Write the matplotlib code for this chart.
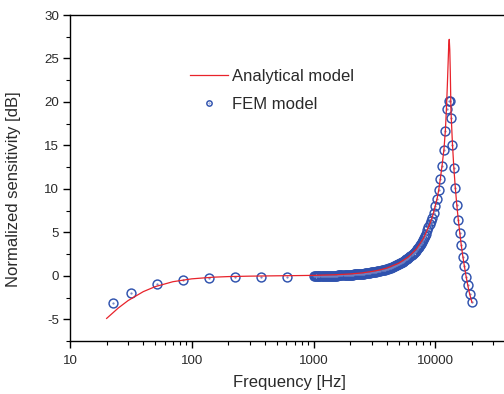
"""Normalized sensitivity: analytical model vs FEM model."""

import matplotlib

matplotlib.use("Agg")
import matplotlib.pyplot as plt
from matplotlib.ticker import FixedLocator, LogLocator, MultipleLocator, NullFormatter

# analytical curve (Hz, dB)
ana_freq = [20, 25, 30, 40, 50, 70, 100, 150, 200, 300, 500, 700, 1000, 1500, 2000,
            2500, 3000, 3500, 4000, 5000, 6000, 7000, 8000, 9000, 9500, 10000, 10400,
            10700, 11020, 11380, 11800, 12120, 12380, 12570, 12770, 12900, 13030, 13160,
            13290, 13460, 13830, 14200, 14600, 15020, 15450, 15900, 16350, 16860, 17380,
            17910, 18500, 19130, 20000]
ana_db = [-4.9, -3.69, -2.85, -1.82, -1.25, -0.68, -0.35, -0.16, -0.09, -0.04, 0.0, 0.02,
          0.05, 0.12, 0.21, 0.33, 0.49, 0.67, 0.89, 1.44, 2.16, 3.09, 4.30, 5.92, 6.85,
          8.05, 9.0, 9.95, 11.2, 12.7, 14.6, 16.8, 19.5, 21.9, 24.7, 26.5, 27.2, 26.0,
          23.5, 19.0, 15.3, 12.5, 10.2, 8.2, 6.5, 4.95, 3.55, 2.2, 1.05, -0.05, -1.1,
          -2.05, -3.05]

# FEM results (Hz, dB)
fem_freq = [22.7, 31.7, 51.9, 84.9, 138.8, 227, 371, 607,
            1000, 1020, 1040, 1060, 1080, 1100, 1120, 1145, 1170, 1195, 1220, 1245, 1270,
            1295, 1320, 1345, 1370, 1395, 1420, 1450, 1480, 1510, 1540, 1570, 1600, 1630,
            1660, 1695, 1730, 1765, 1800, 1835, 1870, 1905, 1940, 1980, 2020, 2060, 2100,
            2140, 2180, 2225, 2270, 2315, 2360, 2405, 2450, 2500, 2550, 2600, 2650, 2705,
            2760, 2815, 2870, 2925, 2980, 3040, 3100, 3160, 3220, 3285, 3350, 3415, 3480,
            3550, 3620, 3695, 3770, 3845, 3920, 3995, 4070, 4155, 4240, 4320, 4400, 4490,
            4580, 4670, 4760, 4855, 4950, 5050, 5150, 5250, 5350, 5460, 5570, 5680, 5790,
            5905, 6020, 6140, 6260, 6385, 6510, 6640, 6770, 6905, 7040, 7180, 7320, 7470,
            7620, 7770, 7920, 8080, 8240, 8420,
            8600, 8790, 8980, 9220, 9450, 9680, 10000, 10380, 10700, 11020, 11380, 11800,
            12120, 12550, 12860, 13210, 13460, 13830, 14200, 14600, 15020, 15450, 15900,
            16350, 16860, 17380, 17910, 18500, 19130, 19950]
fem_db = [-3.17, -1.95, -0.92, -0.46, -0.27, -0.19, -0.19, -0.11,
          -0.05, -0.04, -0.04, -0.04, -0.04, -0.03, -0.03, -0.03, -0.03, -0.02, -0.02,
          -0.02, -0.01, -0.01, -0.01, 0.00, 0.00, 0.00, 0.01, 0.01, 0.02, 0.02, 0.03,
          0.03, 0.04, 0.04, 0.05, 0.05, 0.06, 0.06, 0.07, 0.08, 0.09, 0.09, 0.10, 0.11,
          0.12, 0.13, 0.14, 0.15, 0.16, 0.17, 0.18, 0.19, 0.20, 0.21, 0.22, 0.23, 0.25,
          0.26, 0.28, 0.29, 0.31, 0.33, 0.35, 0.36, 0.38, 0.40, 0.43, 0.45, 0.47, 0.49,
          0.52, 0.54, 0.57, 0.59, 0.62, 0.65, 0.69, 0.72, 0.76, 0.79, 0.83, 0.87, 0.91,
          0.95, 0.99, 1.04, 1.09, 1.14, 1.19, 1.25, 1.31, 1.37, 1.43, 1.50, 1.57, 1.64,
          1.72, 1.80, 1.89, 1.98, 2.07, 2.17, 2.28, 2.39, 2.50, 2.63, 2.76, 2.90, 3.04,
          3.19, 3.34, 3.52, 3.70, 3.89, 4.09, 4.32, 4.55, 4.80,
          5.3, 5.65, 6.0, 6.3, 6.6, 7.2, 8.0, 8.8, 9.9, 11.1, 12.6, 14.5, 16.7, 19.2,
          20.1, 20.1, 18.1, 15.1, 12.4, 10.1, 8.1, 6.4, 4.9, 3.5, 2.2, 1.1, -0.1, -1.1,
          -2.1, -3.0]

x_ticks = [10, 100, 1000, 10000]
x_labels = ["10", "100", "1000", "10000"]
y_ticks = [-5, 0, 5, 10, 15, 20, 25, 30]

RED = "#e8232b"
BLUE = "#2f52ae"
TXT = "#2a2a2a"

plt.rcParams["font.family"] = ["Liberation Sans", "DejaVu Sans"]
plt.rcParams["axes.unicode_minus"] = False

fig = plt.figure(figsize=(5.04, 3.94), dpi=100)
ax = fig.add_axes([70 / 504, 53 / 394, 487 / 504, 326 / 394])

fem_pts, = ax.plot(fem_freq, fem_db, linestyle="none", marker="o", markersize=6.4,
                   markerfacecolor="none", markeredgecolor=BLUE, markeredgewidth=1.05,
                   zorder=2)
fem_dots, = ax.plot(fem_freq, fem_db, linestyle="none", marker="o", markersize=0.6,
                    color="#7083c4", zorder=2)
ana_line, = ax.plot(ana_freq, ana_db, color=RED, linewidth=0.9, zorder=3)

ax.set_xscale("log")
ax.set_xlim(10, 100000)
ax.set_ylim(-7.5, 30)

ax.xaxis.set_major_locator(FixedLocator(x_ticks))
ax.set_xticklabels(x_labels)
ax.xaxis.set_minor_locator(LogLocator(base=10, subs=range(2, 10), numticks=20))
ax.xaxis.set_minor_formatter(NullFormatter())
ax.set_yticks(y_ticks)
ax.yaxis.set_minor_locator(MultipleLocator(2.5))

ax.tick_params(which="both", direction="out", color="black", labelcolor=TXT,
               labelsize=9.6, top=False, right=False)
ax.tick_params(which="major", length=5, width=1)
ax.tick_params(which="minor", length=3, width=0.8)
ax.tick_params(axis="x", which="major", pad=5)
ax.tick_params(axis="y", which="major", pad=3)
for side in ax.spines:
    ax.spines[side].set_linewidth(1.0)

ax.set_xlabel("Frequency [Hz]", fontsize=12, color=TXT)
ax.xaxis.set_label_coords(0.45, -0.105)
ax.xaxis.label.set_verticalalignment("top")
ax.set_ylabel("Normalized sensitivity [dB]", fontsize=12, color=TXT)
ax.yaxis.set_label_coords(-0.1, 0.466)

leg = ax.legend([ana_line, (fem_pts, fem_dots)], ["Analytical model", "FEM model"],
                loc="upper left", bbox_to_anchor=(120 / 487, 1 - 54 / 326),
                frameon=False, fontsize=12, handlelength=2.3, handletextpad=0.25,
                labelspacing=0.8, markerscale=0.6, borderaxespad=0, borderpad=0)
for t in leg.get_texts():
    t.set_color(TXT)

fig.savefig("out.png", dpi=100)
